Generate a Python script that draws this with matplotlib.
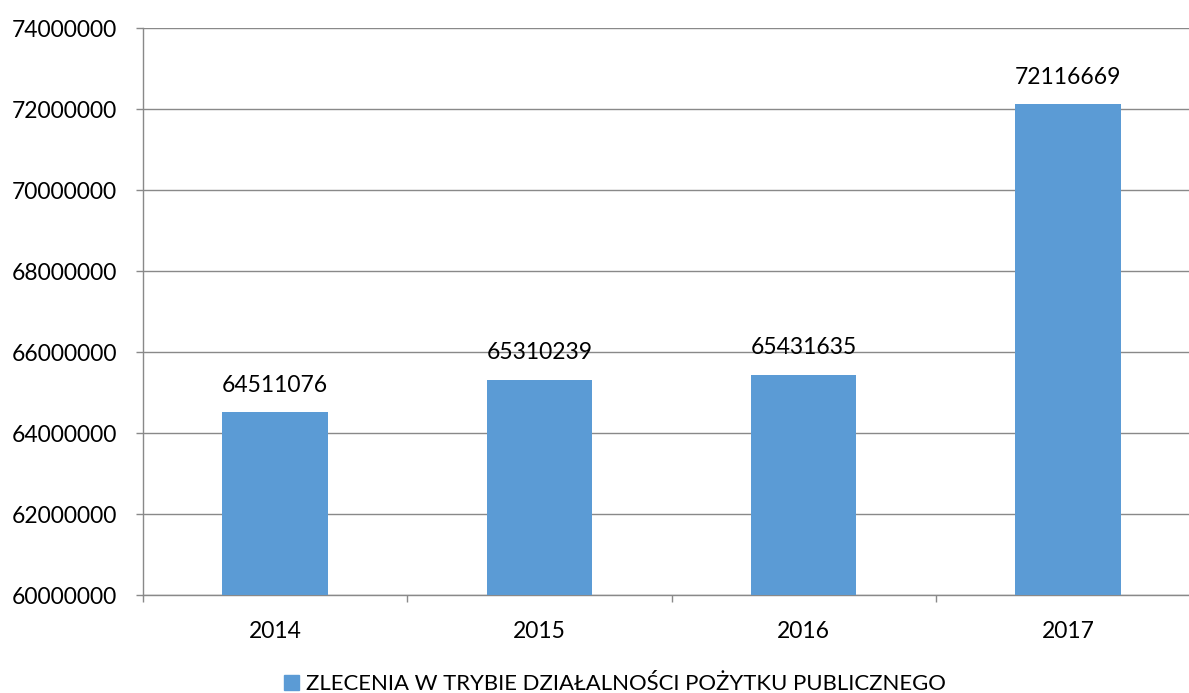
import matplotlib
matplotlib.use("Agg")
import matplotlib.pyplot as plt
from matplotlib.patches import Patch

years = ["2014", "2015", "2016", "2017"]
values = [64511076, 65310239, 65431635, 72116669]
yticks = [60000000, 62000000, 64000000, 66000000, 68000000, 70000000, 72000000, 74000000]
series_name = "ZLECENIA W TRYBIE DZIAŁALNOŚCI POŻYTKU PUBLICZNEGO"

plt.rcParams['font.family'] = ['Lato', 'DejaVu Sans']
bar_color = "#5B9BD5"
grid_color = "#898989"
fs = 16.5

fig = plt.figure(figsize=(11.89, 6.93), dpi=100)
ax = fig.add_axes([143/1189, 1-595/693, (1200-143)/1189, (595-28)/693])

x = list(range(len(years)))
ax.bar(x, values, width=0.40, color=bar_color, zorder=3)
ax.set_ylim(yticks[0], yticks[-1])
ax.set_xlim(-0.5, len(years) - 0.5)
ax.set_yticks(yticks)
ax.set_yticklabels([str(v) for v in yticks], fontsize=fs)
ax.set_xticks(x)
ax.set_xticklabels(years, fontsize=fs)
ax.set_xticks([i - 0.5 for i in range(len(years) + 1)], minor=True)
ax.tick_params(axis='x', which='major', length=0, pad=19)
ax.tick_params(axis='x', which='minor', length=5, color=grid_color, width=1)
ax.tick_params(axis='y', length=5, color=grid_color, width=1, pad=13.5)
ax.grid(axis='y', color=grid_color, linewidth=1, zorder=0)
for s in ['top', 'right']:
    ax.spines[s].set_visible(False)
for s in ['left', 'bottom']:
    ax.spines[s].set_color(grid_color)
    ax.spines[s].set_linewidth(1)

for xi, v in zip(x, values):
    ax.annotate(str(v), (xi, v), xytext=(0, 12), textcoords='offset points',
                ha='center', va='bottom', fontsize=fs)

fig.legend(handles=[Patch(color=bar_color)], labels=[series_name],
           loc='center', bbox_to_anchor=(615/1189, 1-684/693), frameon=False,
           fontsize=15.9, handlelength=0.7, handleheight=0.7, handletextpad=0.3)

fig.savefig("out.png", dpi=100)
